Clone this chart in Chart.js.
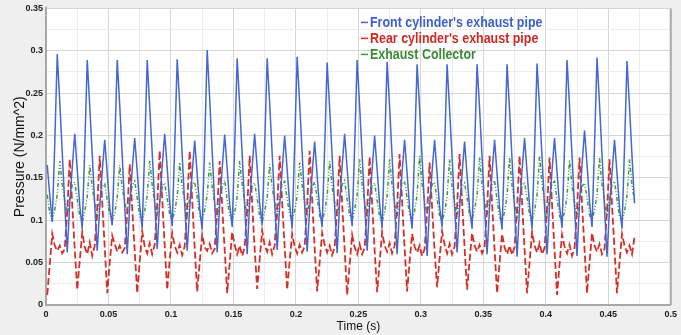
<!DOCTYPE html>
<html>
<head>
<meta charset="utf-8">
<script src="https://cdn.jsdelivr.net/npm/chart.js@4.4.1/dist/chart.umd.min.js"></script>
<style>
    html, body { margin: 0; padding: 0; background: #efefef; }
</style>
</head>
<body>
<canvas id="chart-pressure" width="681" height="335"></canvas>
<script>
// sampled every 2 ms starting at 1 ms
var sampleStart = 0.001;
var sampleStep = 0.002;

var frontPipe = [
    0.165, 0.13, 0.098, 0.19, 0.296, 0.24, 0.18, 0.12, 0.062, 0.12, 0.162, 0.202,
    0.16, 0.118, 0.09, 0.185, 0.289, 0.235, 0.178, 0.118, 0.064, 0.115, 0.158, 0.195,
    0.155, 0.115, 0.094, 0.186, 0.289, 0.236, 0.176, 0.116, 0.06, 0.118, 0.16, 0.197,
    0.158, 0.117, 0.091, 0.184, 0.289, 0.234, 0.18, 0.121, 0.066, 0.12, 0.164, 0.202,
    0.162, 0.12, 0.093, 0.187, 0.29, 0.237, 0.177, 0.119, 0.064, 0.114, 0.156, 0.194,
    0.154, 0.114, 0.089, 0.19, 0.301, 0.243, 0.181, 0.12, 0.062, 0.119, 0.161, 0.201,
    0.161, 0.119, 0.092, 0.186, 0.291, 0.236, 0.178, 0.117, 0.06, 0.121, 0.163, 0.202,
    0.162, 0.12, 0.094, 0.187, 0.291, 0.238, 0.179, 0.12, 0.065, 0.117, 0.159, 0.2,
    0.16, 0.119, 0.09, 0.188, 0.293, 0.238, 0.18, 0.118, 0.063, 0.113, 0.155, 0.193,
    0.153, 0.113, 0.092, 0.184, 0.286, 0.233, 0.176, 0.116, 0.061, 0.12, 0.164, 0.202,
    0.162, 0.12, 0.093, 0.186, 0.289, 0.235, 0.177, 0.119, 0.064, 0.118, 0.16, 0.2,
    0.16, 0.119, 0.091, 0.185, 0.287, 0.234, 0.175, 0.115, 0.06, 0.116, 0.157, 0.195,
    0.155, 0.115, 0.09, 0.183, 0.284, 0.232, 0.174, 0.114, 0.058, 0.115, 0.158, 0.195,
    0.155, 0.116, 0.092, 0.184, 0.284, 0.231, 0.175, 0.116, 0.062, 0.113, 0.155, 0.193,
    0.153, 0.114, 0.09, 0.183, 0.284, 0.232, 0.174, 0.115, 0.06, 0.115, 0.157, 0.195,
    0.155, 0.115, 0.089, 0.182, 0.284, 0.23, 0.172, 0.113, 0.057, 0.116, 0.159, 0.197,
    0.157, 0.117, 0.09, 0.184, 0.285, 0.232, 0.174, 0.115, 0.06, 0.117, 0.159, 0.197,
    0.157, 0.117, 0.091, 0.186, 0.289, 0.235, 0.176, 0.116, 0.058, 0.121, 0.165, 0.206,
    0.166, 0.122, 0.092, 0.188, 0.292, 0.237, 0.177, 0.115, 0.057, 0.114, 0.156, 0.195,
    0.155, 0.115, 0.09, 0.186, 0.288, 0.234, 0.176, 0.12
];

var rearPipe = [
    0.012, 0.048, 0.084, 0.07, 0.064, 0.07, 0.061, 0.066, 0.11, 0.172, 0.118, 0.066,
    0.018, 0.052, 0.086, 0.068, 0.06, 0.074, 0.058, 0.07, 0.115, 0.176, 0.121, 0.068,
    0.014, 0.05, 0.082, 0.072, 0.063, 0.07, 0.062, 0.067, 0.108, 0.166, 0.114, 0.064,
    0.014, 0.051, 0.087, 0.069, 0.061, 0.073, 0.06, 0.071, 0.118, 0.182, 0.125, 0.07,
    0.018, 0.053, 0.085, 0.07, 0.062, 0.071, 0.059, 0.069, 0.117, 0.182, 0.124, 0.067,
    0.016, 0.05, 0.083, 0.068, 0.064, 0.072, 0.061, 0.066, 0.11, 0.17, 0.117, 0.065,
    0.014, 0.049, 0.086, 0.071, 0.06, 0.07, 0.058, 0.068, 0.114, 0.176, 0.12, 0.066,
    0.019, 0.054, 0.088, 0.07, 0.063, 0.074, 0.06, 0.07, 0.115, 0.176, 0.121, 0.069,
    0.018, 0.052, 0.084, 0.069, 0.061, 0.071, 0.062, 0.069, 0.118, 0.182, 0.124, 0.068,
    0.016, 0.05, 0.085, 0.071, 0.062, 0.07, 0.059, 0.068, 0.114, 0.176, 0.12, 0.066,
    0.012, 0.047, 0.083, 0.068, 0.06, 0.072, 0.06, 0.067, 0.113, 0.175, 0.12, 0.065,
    0.015, 0.05, 0.086, 0.07, 0.063, 0.073, 0.061, 0.07, 0.116, 0.178, 0.122, 0.067,
    0.016, 0.051, 0.084, 0.069, 0.062, 0.07, 0.058, 0.066, 0.109, 0.168, 0.115, 0.064,
    0.021, 0.055, 0.087, 0.071, 0.061, 0.072, 0.06, 0.069, 0.116, 0.178, 0.122, 0.068,
    0.018, 0.052, 0.085, 0.07, 0.063, 0.071, 0.061, 0.068, 0.114, 0.176, 0.12, 0.066,
    0.014, 0.049, 0.084, 0.068, 0.06, 0.07, 0.059, 0.068, 0.114, 0.176, 0.121, 0.066,
    0.014, 0.05, 0.086, 0.07, 0.062, 0.073, 0.06, 0.067, 0.113, 0.174, 0.119, 0.065,
    0.012, 0.048, 0.083, 0.069, 0.061, 0.071, 0.058, 0.067, 0.113, 0.174, 0.119, 0.066,
    0.014, 0.05, 0.085, 0.07, 0.063, 0.072, 0.06, 0.066, 0.111, 0.172, 0.118, 0.065,
    0.014, 0.05, 0.084, 0.07, 0.062, 0.07, 0.06, 0.08
];

var collector = [
    0.13, 0.108, 0.1, 0.112, 0.13, 0.17, 0.142, 0.125, 0.106, 0.125, 0.142, 0.145,
    0.125, 0.105, 0.098, 0.11, 0.128, 0.165, 0.14, 0.12, 0.104, 0.124, 0.14, 0.143,
    0.124, 0.106, 0.1, 0.108, 0.127, 0.165, 0.138, 0.122, 0.107, 0.127, 0.141, 0.146,
    0.126, 0.104, 0.099, 0.111, 0.129, 0.17, 0.141, 0.121, 0.105, 0.123, 0.139, 0.144,
    0.125, 0.107, 0.101, 0.11, 0.128, 0.168, 0.14, 0.123, 0.106, 0.126, 0.142, 0.145,
    0.127, 0.105, 0.099, 0.112, 0.13, 0.168, 0.139, 0.12, 0.104, 0.125, 0.14, 0.147,
    0.124, 0.106, 0.1, 0.109, 0.128, 0.17, 0.142, 0.122, 0.106, 0.124, 0.141, 0.144,
    0.126, 0.104, 0.098, 0.11, 0.127, 0.166, 0.139, 0.121, 0.105, 0.127, 0.143, 0.146,
    0.125, 0.107, 0.101, 0.111, 0.129, 0.168, 0.141, 0.123, 0.107, 0.125, 0.14, 0.145,
    0.127, 0.105, 0.099, 0.11, 0.128, 0.17, 0.14, 0.121, 0.104, 0.124, 0.142, 0.147,
    0.125, 0.106, 0.1, 0.112, 0.13, 0.172, 0.142, 0.122, 0.106, 0.126, 0.141, 0.144,
    0.124, 0.104, 0.098, 0.11, 0.129, 0.172, 0.141, 0.12, 0.105, 0.125, 0.143, 0.146,
    0.126, 0.107, 0.1, 0.111, 0.13, 0.176, 0.143, 0.123, 0.107, 0.127, 0.142, 0.145,
    0.125, 0.105, 0.099, 0.109, 0.128, 0.172, 0.14, 0.121, 0.104, 0.124, 0.14, 0.144,
    0.127, 0.106, 0.101, 0.112, 0.13, 0.174, 0.142, 0.122, 0.106, 0.126, 0.142, 0.147,
    0.124, 0.104, 0.098, 0.11, 0.129, 0.174, 0.141, 0.12, 0.105, 0.125, 0.141, 0.145,
    0.126, 0.107, 0.1, 0.111, 0.13, 0.176, 0.143, 0.123, 0.107, 0.127, 0.143, 0.146,
    0.125, 0.105, 0.099, 0.11, 0.128, 0.171, 0.14, 0.121, 0.104, 0.124, 0.14, 0.144,
    0.127, 0.106, 0.1, 0.112, 0.13, 0.174, 0.142, 0.122, 0.106, 0.126, 0.142, 0.146,
    0.125, 0.104, 0.099, 0.11, 0.129, 0.172, 0.141, 0.123
];

var seriesNames = ["Front cylinder's exhaust pipe", "Rear cylinder's exhaust pipe", "Exhaust Collector"];

var timeS = frontPipe.map(function (v, i) {
    return +(sampleStart + i * sampleStep).toFixed(3);
});

var sans = "'Liberation Sans', Arial, sans-serif";

function isMajor(v) {
    return Math.abs(v / 0.05 - Math.round(v / 0.05)) < 1e-6;
}

function majorLabel(v) {
    return isMajor(v) ? String(+v.toFixed(2)) : '';
}

function gridColor(c) {
    return c.tick && isMajor(c.tick.value) ? '#d6d6d6' : '#ececec';
}

var plotFrame = {
    id: 'plotFrame',
    beforeDraw: function (chart) {
        var ctx = chart.ctx, a = chart.chartArea;
        ctx.save();
        ctx.fillStyle = '#efefef';
        ctx.fillRect(0, 0, chart.width, chart.height);
        ctx.fillStyle = '#ffffff';
        ctx.fillRect(a.left, a.top, a.right - a.left, a.bottom - a.top);
        ctx.restore();
    },
    afterDraw: function (chart) {
        var ctx = chart.ctx, a = chart.chartArea;
        ctx.save();
        ctx.strokeStyle = '#a8a8a8';
        ctx.lineWidth = 2;
        ctx.beginPath();
        ctx.moveTo(a.right, a.top);
        ctx.lineTo(a.right, a.bottom);
        ctx.stroke();

        // legend, squeezed a little like the original picture
        ctx.font = 'bold 15px ' + sans;
        ctx.textBaseline = 'middle';
        chart.data.datasets.forEach(function (ds, i) {
            var x = a.left + 315;
            var y = a.top + 14 + i * 16;
            ctx.strokeStyle = ds.borderColor;
            ctx.lineWidth = 1.5;
            ctx.beginPath();
            ctx.moveTo(x, y);
            ctx.lineTo(x + 7, y);
            ctx.stroke();
            ctx.save();
            ctx.translate(x + 9, y);
            ctx.scale(0.83, 1);
            ctx.fillStyle = ds.legendColor;
            ctx.fillText(ds.label, 0, 0);
            ctx.restore();
        });
        ctx.restore();
    }
};

var ctxPressure = document.getElementById('chart-pressure').getContext('2d');
var chartPressure = new Chart(ctxPressure, {
    type: 'line',
    data: {
        labels: timeS,
        datasets: [
            {
                label: seriesNames[0],
                data: frontPipe,
                borderColor: '#4467d4',
                legendColor: '#3c5fcc',
                borderWidth: 1.5,
                pointRadius: 0,
                tension: 0
            },
            {
                label: seriesNames[1],
                data: rearPipe,
                borderColor: '#d62f27',
                legendColor: '#cc2a22',
                borderWidth: 1.8,
                borderDash: [7, 3],
                pointRadius: 0,
                tension: 0
            },
            {
                label: seriesNames[2],
                data: collector,
                borderColor: '#3f9a3a',
                legendColor: '#3a8a36',
                borderWidth: 1.5,
                borderDash: [4, 2, 1, 2, 1, 2],
                pointRadius: 0,
                tension: 0
            }
        ]
    },
    options: {
        responsive: false,
        animation: false,
        layout: { padding: { top: 6, right: 8, bottom: 0, left: 0 } },
        plugins: {
            legend: { display: false },
            tooltip: { enabled: false }
        },
        scales: {
            x: {
                type: 'linear',
                min: 0,
                max: 0.5,
                afterFit: function (scale) { scale.height = 30; },
                grid: { color: gridColor, drawTicks: false },
                border: { color: '#a8a8a8', width: 2 },
                ticks: {
                    stepSize: 0.025,
                    autoSkip: false,
                    maxRotation: 0,
                    padding: 4,
                    color: '#222',
                    font: { family: sans, size: 9, weight: 'bold' },
                    callback: majorLabel
                },
                title: {
                    display: true,
                    text: 'Time (s)',
                    color: '#111',
                    padding: { top: 0, bottom: 1 },
                    font: { family: sans, size: 12 }
                }
            },
            y: {
                min: 0,
                max: 0.35,
                afterFit: function (scale) { scale.width = 46; },
                grid: { color: gridColor, drawTicks: false },
                border: { color: '#a8a8a8', width: 2 },
                ticks: {
                    stepSize: 0.025,
                    autoSkip: false,
                    padding: 3,
                    color: '#222',
                    font: { family: sans, size: 9, weight: 'bold' },
                    callback: majorLabel
                },
                title: {
                    display: true,
                    text: 'Pressure (N/mm^2)',
                    color: '#111',
                    padding: { top: 12, bottom: 0 },
                    font: { family: sans, size: 14 }
                }
            }
        }
    },
    plugins: [plotFrame]
});
</script>
</body>
</html>
